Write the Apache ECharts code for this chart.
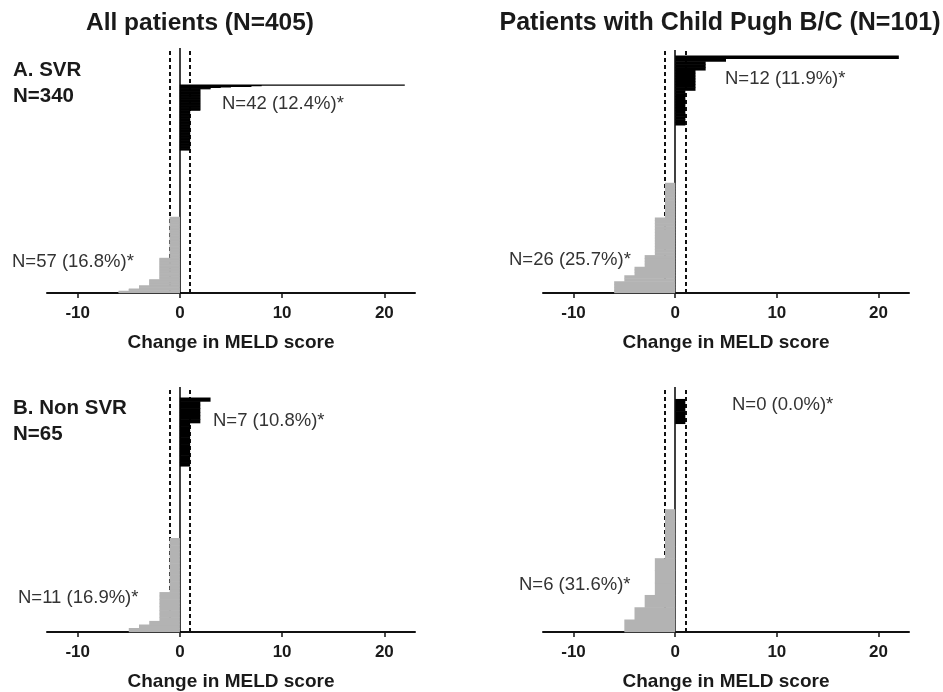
<!DOCTYPE html>
<html>
<head>
<meta charset="utf-8">
<script src="https://cdn.jsdelivr.net/npm/echarts@6/dist/echarts.min.js"></script>
<style>
  html, body { margin: 0; padding: 0; background: #fff; }
  #chart { width: 943px; height: 692px; }
</style>
</head>
<body>
<div id="chart"></div>
<script>
// Change in MELD score per patient, as (score change, number of patients) runs.
// A. SVR, all patients
const svrAllChange = [22, 8, 7, 5, 4, 3, 2, 1, 0, -1, -2, -3, -4, -5, -6];
const svrAllCount  = [1, 1, 1, 1, 1, 2, 35, 65, 109, 67, 35, 10, 5, 4, 3];
// A. SVR, Child Pugh B/C
const svrCpChange = [22, 5, 3, 2, 1, 0, -1, -2, -3, -4, -5, -6];
const svrCpCount  = [1, 1, 3, 7, 12, 20, 12, 13, 4, 3, 2, 4];
// B. Non SVR, all patients
const nonSvrAllChange = [3, 2, 1, 0, -1, -2, -3, -4, -5];
const nonSvrAllCount  = [1, 6, 12, 20, 15, 8, 1, 1, 1];
// B. Non SVR, Child Pugh B/C
const nonSvrCpChange = [1, 0, -1, -2, -3, -4, -5];
const nonSvrCpCount  = [2, 7, 4, 3, 1, 1, 1];

// Patient slots on each vertical axis
const slotCounts = [400, 84, 68, 20];

const columnTitles = ['All patients (N=405)', 'Patients with Child Pugh B/C (N=101)'];
const rowLabels = [['A. SVR', 'N=340'], ['B. Non SVR', 'N=65']];
const increaseNotes = ['N=42 (12.4%)*', 'N=12 (11.9%)*', 'N=7 (10.8%)*', 'N=0 (0.0%)*'];
const decreaseNotes = ['N=57 (16.8%)*', 'N=26 (25.7%)*', 'N=11 (16.9%)*', 'N=6 (31.6%)*'];
const xTicks = [-10, 0, 10, 20];
const axisTitle = 'Change in MELD score';

const panels = [
  [svrAllChange, svrAllCount],
  [svrCpChange, svrCpCount],
  [nonSvrAllChange, nonSvrAllCount],
  [nonSvrCpChange, nonSvrCpCount]
];

// Expand runs into one value per patient, lowest change at the bottom
function expand(changes, counts) {
  const out = [];
  for (let i = changes.length - 1; i >= 0; i--) {
    for (let k = 0; k < counts[i]; k++) out.push(changes[i]);
  }
  return out;
}

const gridBoxes = [
  { left: 47, top: 48, width: 368, height: 245 },
  { left: 543, top: 50, width: 366, height: 243 },
  { left: 47, top: 387, width: 368, height: 245 },
  { left: 543, top: 387, width: 366, height: 245 }
];

const FONT = '"Liberation Sans", Arial, sans-serif';
const RISE = '#000000';
const FALL = '#b3b3b3';

// One horizontal bar per patient; bars slightly overlap their neighbours
// so that adjacent patients join into a solid step outline.
function renderPatientBar(params, api) {
  const v = api.value(0);
  const idx = api.value(1);
  if (!v) return null;
  const base = api.coord([0, idx]);
  const tip = api.coord([v, idx]);
  const band = api.size([0, 1])[1];
  return {
    type: 'rect',
    shape: {
      x: Math.min(base[0], tip[0]),
      y: base[1] - band / 2 - 0.3,
      width: Math.abs(tip[0] - base[0]),
      height: band + 0.6
    },
    style: { fill: v > 0 ? RISE : FALL }
  };
}

const grids = [], xAxes = [], yAxes = [], series = [];
panels.forEach(([changes, counts], p) => {
  const values = expand(changes, counts);
  const n = slotCounts[p];
  const cats = [];
  for (let i = 1; i <= n; i++) cats.push(String(i));
  const data = values.map((v, i) => [v, i]);
  grids.push(Object.assign({ containLabel: false }, gridBoxes[p]));
  xAxes.push({
    gridIndex: p, type: 'value', min: -13, max: 23,
    splitLine: { show: false },
    axisLine: { show: true, onZero: false, lineStyle: { color: '#111', width: 2 } },
    axisTick: { show: true, customValues: xTicks, length: 5, lineStyle: { color: '#111', width: 1.5 } },
    axisLabel: { customValues: xTicks, margin: 12, color: '#1a1a1a', fontFamily: FONT, fontWeight: 'bold', fontSize: 17 },
    name: axisTitle, nameLocation: 'middle', nameGap: 40,
    nameTextStyle: { color: '#1a1a1a', fontFamily: FONT, fontWeight: 'bold', fontSize: 19 }
  });
  yAxes.push({
    gridIndex: p, type: 'category', data: cats,
    axisLine: { show: false }, axisTick: { show: false }, axisLabel: { show: false },
    splitLine: { show: false }
  });
  series.push({
    type: 'custom', xAxisIndex: p, yAxisIndex: p, data: data, z: 3,
    encode: { x: 0, y: 1 }, silent: true, renderItem: renderPatientBar,
    markLine: {
      silent: true, symbol: 'none', label: { show: false }, z: 1,
      data: [
        { xAxis: 0, lineStyle: { color: '#000', width: 1.5, type: 'solid' } },
        { xAxis: -1, lineStyle: { color: '#111', width: 2, type: [4, 3] } },
        { xAxis: 1, lineStyle: { color: '#111', width: 2, type: [4, 3] } }
      ]
    }
  });
});

function text(str, x, y, opts) {
  return {
    type: 'text', x: x, y: y, silent: true,
    style: Object.assign({
      text: str, fill: '#333', font: '18.5px ' + FONT, align: 'left', verticalAlign: 'middle'
    }, opts || {})
  };
}

const graphics = [
  text(columnTitles[0], 200, 23, { align: 'center', fill: '#1a1a1a', font: 'bold 24.5px ' + FONT }),
  text(columnTitles[1], 720, 23, { align: 'center', fill: '#1a1a1a', font: 'bold 25px ' + FONT }),
  text(rowLabels[0][0], 13, 70, { fill: '#1a1a1a', font: 'bold 20.5px ' + FONT }),
  text(rowLabels[0][1], 13, 96, { fill: '#1a1a1a', font: 'bold 20.5px ' + FONT }),
  text(rowLabels[1][0], 13, 408, { fill: '#1a1a1a', font: 'bold 20.5px ' + FONT }),
  text(rowLabels[1][1], 13, 434, { fill: '#1a1a1a', font: 'bold 20.5px ' + FONT }),
  text(increaseNotes[0], 222, 104),
  text(decreaseNotes[0], 12, 262),
  text(increaseNotes[1], 725, 79),
  text(decreaseNotes[1], 509, 260),
  text(increaseNotes[2], 213, 421),
  text(decreaseNotes[2], 18, 598),
  text(increaseNotes[3], 732, 405),
  text(decreaseNotes[3], 519, 585)
];

const chart = echarts.init(document.getElementById('chart'), null, { renderer: 'canvas' });
chart.setOption({
  animation: false,
  backgroundColor: '#fff',
  grid: grids,
  xAxis: xAxes,
  yAxis: yAxes,
  series: series,
  graphic: graphics
});
</script>
</body>
</html>
